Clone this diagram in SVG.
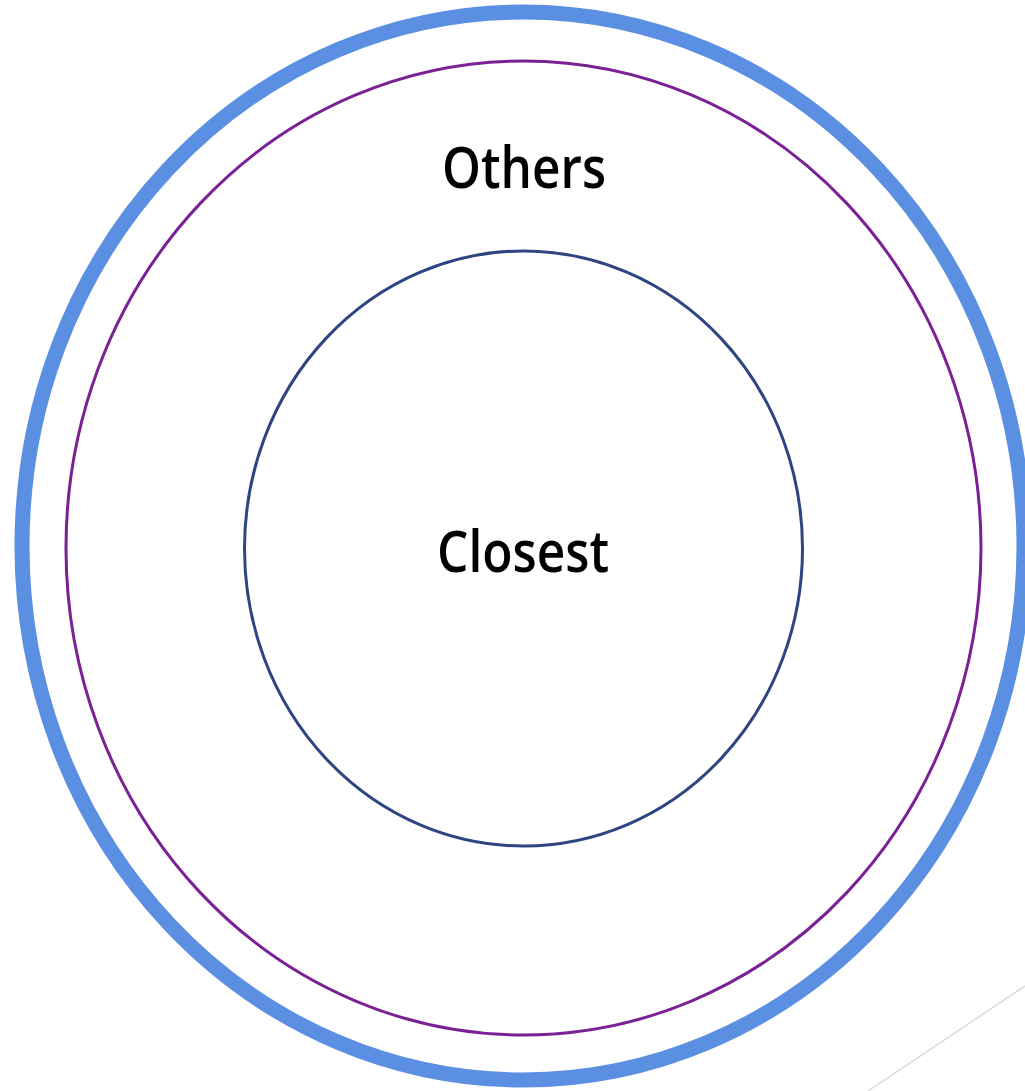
<svg xmlns="http://www.w3.org/2000/svg" width="1025" height="1091" viewBox="0 0 1025 1091">
<style>
.ring{fill:none}
.lbl{font-family:"Open Sans","Liberation Sans",sans-serif;font-size:57px;font-weight:600;fill:#000;text-anchor:middle}
</style>
<rect width="1025" height="1091" fill="#fff"/>
<g id="connectors">
<line x1="868" y1="1091" x2="1025" y2="986" stroke="#d9d9d9" stroke-width="1.5"/>
</g>
<g id="outer">
<ellipse class="ring" cx="523" cy="546" rx="501" ry="534" stroke="#5b8fe1" stroke-width="15"/>
</g>
<g id="others">
<ellipse class="ring" cx="523.5" cy="548" rx="457.5" ry="487" stroke="#7b2196" stroke-width="3"/>
<text class="lbl" x="524" y="188" textLength="164" lengthAdjust="spacingAndGlyphs">Others</text>
</g>
<g id="closest">
<ellipse class="ring" cx="523.5" cy="548.5" rx="279" ry="297.5" stroke="#2e4582" stroke-width="3"/>
<text class="lbl" x="523" y="572" textLength="172" lengthAdjust="spacingAndGlyphs">Closest</text>
</g>
</svg>
